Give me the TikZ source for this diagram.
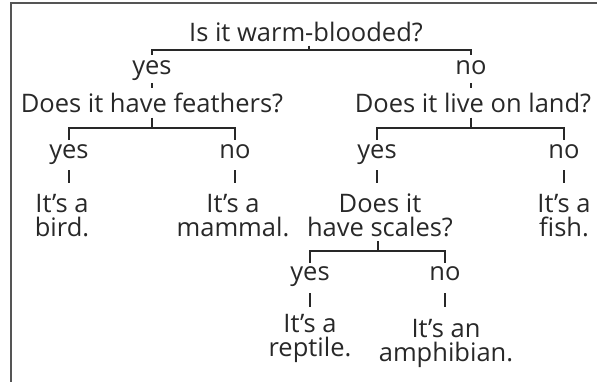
\documentclass[tikz,border=0pt]{standalone}
\usepackage{fontspec}
\setmainfont{Open Sans}
\usepackage{tikz}
\definecolor{inkgrey}{RGB}{40,40,40}
\definecolor{framegrey}{RGB}{85,85,85}

\begin{document}
\begin{tikzpicture}[
  x=1pt, y=-1pt,
  word/.style={inner sep=0pt, align=center, text=inkgrey,
    font=\fontsize{25.5}{24}\selectfont},
  quest/.style={word, anchor=base},
  ans/.style={word, anchor=base, text height=14pt, text depth=6pt},
  leaf/.style={word, anchor=north},
  link/.style={draw=inkgrey, line width=1.6pt},
  tick/.style={draw=inkgrey, line width=1.3pt}
]
\useasboundingbox (0,0) rectangle (597,382);
\draw[framegrey, line width=1.8pt] (11,3) rectangle (660,420);
% questions
\node[quest] (warm) at (306,42) {Is it warm-blooded?};
\node[quest] (feath) at (152,113) {Does it have feathers?};
\node[quest] (land) at (473,113) {Does it live on land?};
\node[leaf] (scales) at (380,194) {Does it\\have scales?};
% answers
\node[ans] (yes1) at (152,75) {yes};
\node[ans] (no1) at (471,75) {no};
\node[ans] (yes2) at (69,159) {yes};
\node[ans] (no2) at (235,159) {no};
\node[ans] (yes3) at (377,159) {yes};
\node[ans] (no3) at (564,159) {no};
\node[ans] (yes4) at (310,280) {yes};
\node[ans] (no4) at (445,280) {no};
% results
\node[leaf] (bird) at (62,194) {It’s a\\bird.};
\node[leaf] (mammal) at (233,194) {It’s a\\mammal.};
\node[leaf] (fish) at (564,194) {It’s a\\fish.};
\node[leaf] (reptile) at (310,314) {It’s a\\reptile.};
\node[leaf] (amphib) at (446,319) {It’s an\\amphibian.};
% bars
\coordinate (warmbar) at (309,50);
\coordinate (feathbar) at (152,128);
\coordinate (landbar) at (471,128);
\coordinate (scalebar) at (378,251);
\draw[link, shorten <=3pt] (warmbar |- warm.south) -- (warmbar);
\draw[link, shorten <=6pt, shorten >=6pt] (yes1) |- (warmbar) -| (no1);
\draw[link, shorten <=4pt] (feath) -- (feathbar);
\draw[link, shorten <=5pt, shorten >=5pt] (yes2) |- (feathbar) -| (no2);
\draw[link, shorten <=4pt] (landbar |- land.south) -- (landbar);
\draw[link, shorten <=5pt, shorten >=5pt] (yes3) |- (landbar) -| (no3);
\draw[link, shorten <=4pt] (scalebar |- scales.south) -- (scalebar);
\draw[link, shorten <=3pt, shorten >=3pt] (yes4) |- (scalebar) -| (no4);
% ticks
\draw[tick, shorten <=2pt, shorten >=5pt] (yes1) -- (yes1 |- feath.north);
\draw[tick, shorten <=2pt, shorten >=5pt] (no1) -- (no1 |- land.north);
\draw[tick, shorten <=5pt, shorten >=11pt] (yes2) -- (yes2 |- bird.north);
\draw[tick, shorten <=5pt, shorten >=11pt] (no2) -- (no2 |- mammal.north);
\draw[tick, shorten <=5pt, shorten >=11pt] (yes3) -- (yes3 |- scales.north);
\draw[tick, shorten <=5pt, shorten >=11pt] (no3) -- (no3 |- fish.north);
\draw[tick, shorten <=7pt, shorten >=7pt] (yes4) -- (yes4 |- reptile.north);
\draw[tick, shorten <=7pt, shorten >=12pt] (no4) -- (no4 |- amphib.north);
\end{tikzpicture}
\end{document}
